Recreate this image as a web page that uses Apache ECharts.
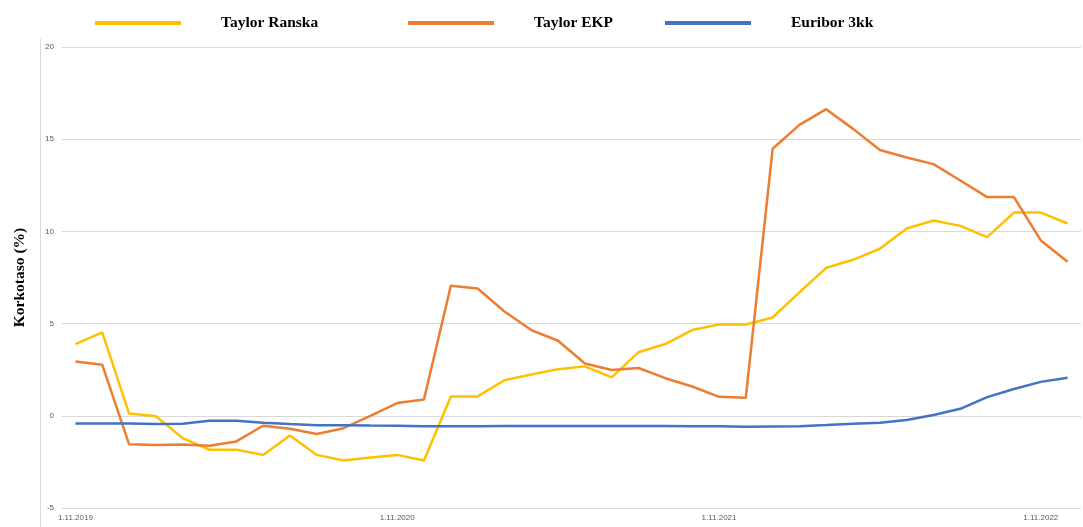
<!DOCTYPE html>
<html><head><meta charset="utf-8">
<script src="https://cdn.jsdelivr.net/npm/echarts@6/dist/echarts.min.js"></script>
<style>html,body{margin:0;padding:0;background:#fff}#c{width:1083px;height:527px}</style>
</head><body><div id="c"></div>
<script>
// Monthly categories, Nov 2019 .. Dec 2022
const categories = [
 "1.11.2019","1.12.2019","1.1.2020","1.2.2020","1.3.2020","1.4.2020","1.5.2020","1.6.2020","1.7.2020","1.8.2020","1.9.2020","1.10.2020",
 "1.11.2020","1.12.2020","1.1.2021","1.2.2021","1.3.2021","1.4.2021","1.5.2021","1.6.2021","1.7.2021","1.8.2021","1.9.2021","1.10.2021",
 "1.11.2021","1.12.2021","1.1.2022","1.2.2022","1.3.2022","1.4.2022","1.5.2022","1.6.2022","1.7.2022","1.8.2022","1.9.2022","1.10.2022",
 "1.11.2022","1.12.2022"];
const taylorRanska = [3.89,4.52,0.13,-0.02,-1.21,-1.84,-1.84,-2.12,-1.07,-2.12,-2.42,-2.26,-2.12,-2.42,1.05,1.05,1.93,2.24,2.53,2.68,2.08,3.45,3.89,4.65,4.95,4.95,5.33,6.69,8.03,8.46,9.06,10.16,10.59,10.30,9.69,11.02,11.02,10.43];
const taylorEKP = [2.95,2.77,-1.54,-1.59,-1.55,-1.63,-1.39,-0.54,-0.70,-0.99,-0.67,0.00,0.69,0.89,7.05,6.90,5.66,4.65,4.07,2.84,2.48,2.59,2.04,1.59,1.03,0.98,14.48,15.78,16.63,15.56,14.41,14.01,13.65,12.76,11.86,11.86,9.51,8.35];
const euribor3kk = [-0.42,-0.42,-0.42,-0.44,-0.43,-0.27,-0.27,-0.38,-0.45,-0.51,-0.51,-0.53,-0.54,-0.56,-0.56,-0.56,-0.55,-0.55,-0.55,-0.55,-0.55,-0.55,-0.55,-0.56,-0.57,-0.60,-0.58,-0.56,-0.50,-0.43,-0.38,-0.23,0.04,0.38,1.01,1.45,1.84,2.06];
const seriesNames = ["Taylor Ranska","Taylor EKP","Euribor 3kk"];
const yTicks = {min:-5, max:20, step:5};
const yAxisTitle = "Korkotaso (%)";

const colors = ["#FFC000","#ED7D31","#4472C4"];
const legendLeft = [90,403,660];
const chart = echarts.init(document.getElementById('c'));
const legendBase = (i)=>({
  data:[seriesNames[i]], left:legendLeft[i], top:10, icon:'rect', itemWidth:86, itemHeight:4,
  textStyle:{fontFamily:'Liberation Serif', fontWeight:'bold', fontSize:15.5, color:'#000', padding:[0,0,0,35]},
  selectedMode:false
});
chart.setOption({
  animation:false,
  color:colors,
  legend:[legendBase(0),legendBase(1),legendBase(2)],
  grid:{left:62,right:2,top:47,bottom:19,containLabel:false},
  graphic:[{type:'line',shape:{x1:40.5,y1:39,x2:40.5,y2:527},style:{stroke:'#d9d9d9',lineWidth:1},silent:true}],
  xAxis:{type:'category',data:categories,boundaryGap:true,
    axisLine:{show:false},axisTick:{show:false},
    axisLabel:{interval:(i)=>i%12===0,margin:6,fontFamily:'Liberation Sans',fontSize:8,color:'#595959'}},
  yAxis:{type:'value',min:yTicks.min,max:yTicks.max,interval:yTicks.step,
    name:yAxisTitle,nameLocation:'middle',nameGap:34,
    nameTextStyle:{fontFamily:'Liberation Serif',fontWeight:'bold',fontSize:15.5,color:'#000'},
    axisLabel:{margin:8,fontFamily:'Liberation Sans',fontSize:8,color:'#595959'},
    splitLine:{lineStyle:{color:'#d9d9d9',width:1}},
    axisLine:{show:false},axisTick:{show:false}},
  series:[
    {name:seriesNames[0],type:'line',data:taylorRanska,showSymbol:false,symbol:'none',lineStyle:{width:2.5}},
    {name:seriesNames[1],type:'line',data:taylorEKP,showSymbol:false,symbol:'none',lineStyle:{width:2.5}},
    {name:seriesNames[2],type:'line',data:euribor3kk,showSymbol:false,symbol:'none',lineStyle:{width:2.5}}
  ]
});
</script></body></html>
